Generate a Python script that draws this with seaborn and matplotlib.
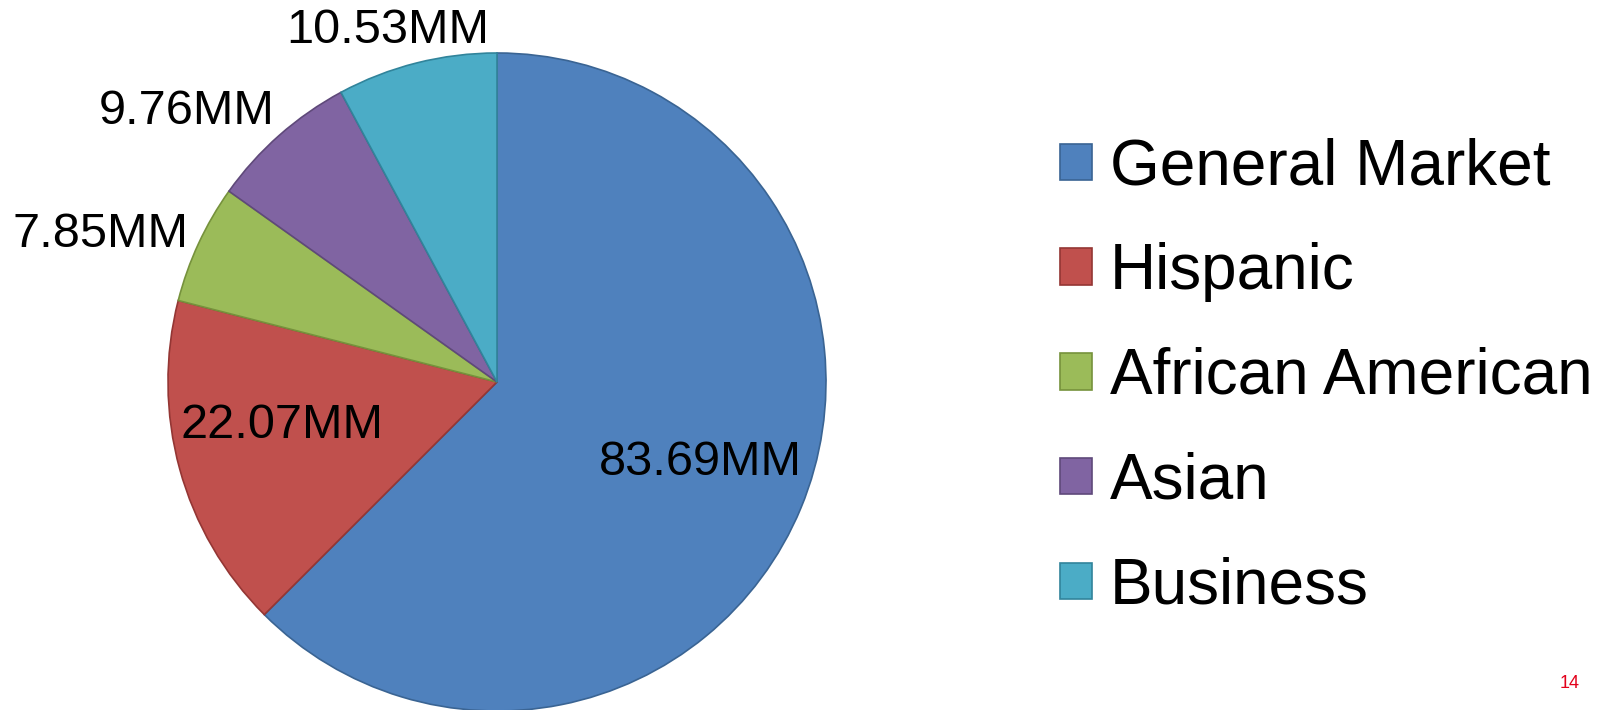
import numpy as np
import matplotlib
matplotlib.use("Agg")
import matplotlib.pyplot as plt
import seaborn as sns

# Data
segments = ["General Market", "Hispanic", "African American", "Asian", "Business"]
households = [83.69, 22.07, 7.85, 9.76, 10.53]
value_labels = ["83.69MM", "22.07MM", "7.85MM", "9.76MM", "10.53MM"]
page_number = "14"

# Style
fills = ["#4F81BD", "#C0504D", "#9BBB59", "#8064A2", "#4BACC6"]
edges = ["#3A6493", "#943634", "#76923C", "#5F497A", "#31849B"]
label_radius = [0.66, 0.665, 1.29, 1.26, 1.13]
label_turn = [2, -5, 4, 7, 3]

sns.set_theme(style="white")
plt.rcParams["font.family"] = ["Liberation Sans", "DejaVu Sans"]
plt.rcParams["text.color"] = "black"

W, H = 1604, 710
fig = plt.figure(figsize=(W / 100, H / 100), dpi=100)

# pie centre (497, 382) px, radius 329 px, axes limits +-1.3
R = 329
lim = 1.3
cx, cy = 497, H - 382
side = 2 * lim * R
ax = fig.add_axes([(cx - side / 2) / W, (cy - side / 2) / H, side / W, side / H])

wedges, _ = ax.pie(households, colors=fills, startangle=90, counterclock=False,
                   radius=1, wedgeprops=dict(linewidth=1.2))
for w, ec in zip(wedges, edges):
    w.set_edgecolor(ec)
ax.set_xlim(-lim, lim)
ax.set_ylim(-lim, lim)
ax.set_aspect("equal")
ax.axis("off")

for w, txt, r, turn in zip(wedges, value_labels, label_radius, label_turn):
    ang = np.deg2rad((w.theta1 + w.theta2) / 2 + turn)
    ax.annotate(txt, (r * np.cos(ang), r * np.sin(ang)), xytext=(0, -3),
                textcoords="offset points", ha="center", va="center",
                fontsize=35, color="black", annotation_clip=False)

leg = fig.legend(wedges, segments, loc="center left",
                 bbox_to_anchor=(1060 / W, 1 - 377 / H),
                 frameon=False, fontsize=46, handlelength=0.5, handleheight=0.5,
                 handletextpad=0.28, labelspacing=0.70, borderpad=0, borderaxespad=0)
for t in leg.get_texts():
    t.set_color("black")

fig.text(1570 / W, 1 - 684 / H, page_number, color="#E3001B", fontsize=13,
         ha="center", va="center")

fig.savefig("out.png", dpi=100)
